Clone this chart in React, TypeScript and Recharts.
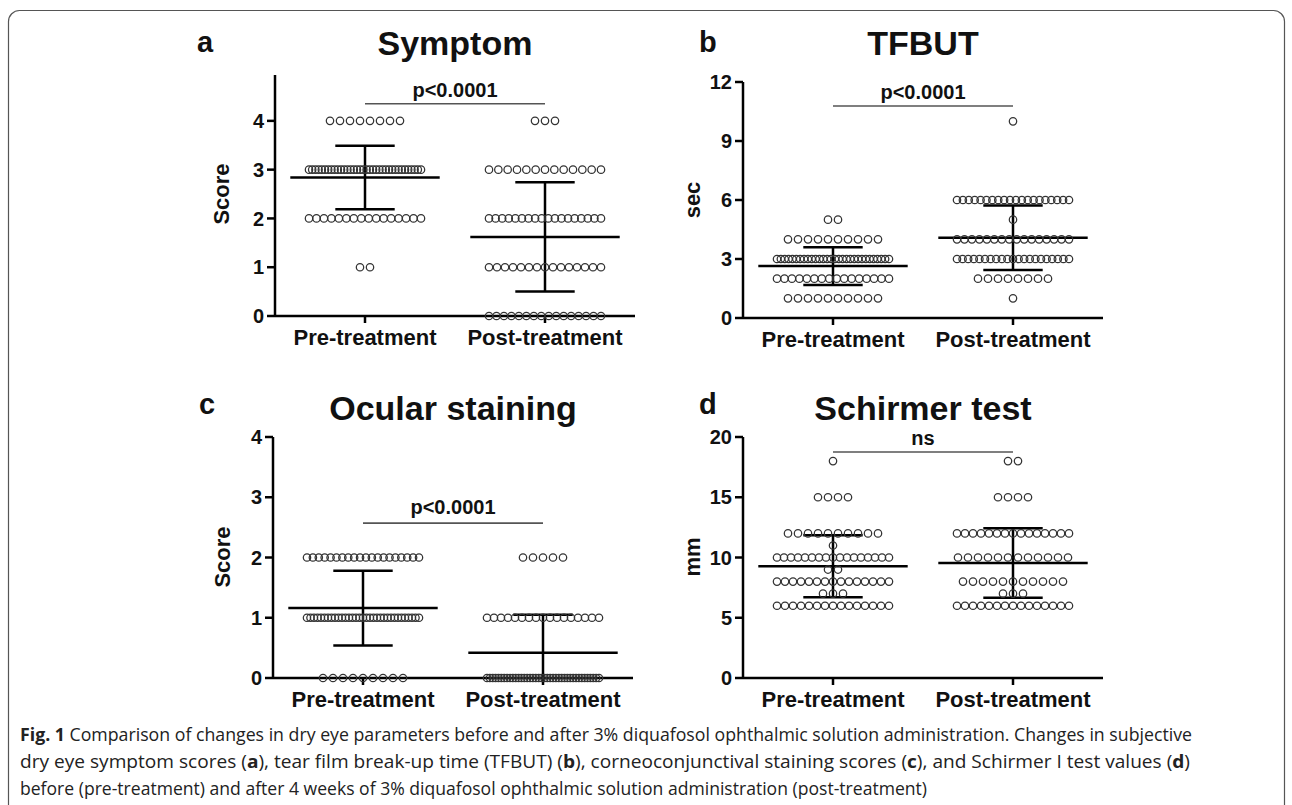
import React from 'react'
import { ScatterChart, Scatter, XAxis, YAxis, ReferenceLine } from 'recharts'

const GROUPS = ['Pre-treatment', 'Post-treatment']

// a: Symptom score (value levels and number of eyes at each level)
const symptomLevels = [4, 3, 2, 1, 0]
const symptomPre = [8, 36, 16, 2, 0]
const symptomPost = [3, 13, 18, 15, 16]
const symptomMean = [2.84, 1.62]
const symptomSd = [0.65, 1.12]
const symptomTicks = [0, 1, 2, 3, 4]

// b: TFBUT (sec)
const tfbutLevels = [10, 6, 5, 4, 3, 2, 1]
const tfbutPre = [0, 0, 2, 10, 30, 16, 10]
const tfbutPost = [1, 20, 1, 16, 21, 8, 1]
const tfbutMean = [2.64, 4.08]
const tfbutSd = [0.96, 1.64]
const tfbutTicks = [0, 3, 6, 9, 12]

// c: Ocular staining score
const stainLevels = [2, 1, 0]
const stainPre = [20, 33, 9]
const stainPost = [5, 17, 40]
const stainMean = [1.16, 0.42]
const stainSd = [0.62, 0.63]
const stainTicks = [0, 1, 2, 3, 4]

// d: Schirmer test (mm)
const schirmerLevels = [18, 15, 12, 11, 10, 9, 8, 7, 6]
const schirmerPre = [1, 4, 10, 1, 17, 2, 15, 3, 15]
const schirmerPost = [2, 4, 15, 0, 12, 0, 11, 3, 15]
const schirmerMean = [9.28, 9.55]
const schirmerSd = [2.57, 2.88]
const schirmerTicks = [0, 5, 10, 15, 20]

const SIG = ['p<0.0001', 'p<0.0001', 'p<0.0001', 'ns']

const FONT = '"Liberation Sans", Arial, sans-serif'
const STEP = 10 / 180 // dot spacing in x units
const MAX_SPAN = 112 / 180 // widest row

// spread the dots of each level in a row around the group position
const makeDots = (levels: number[], counts: number[], gx: number) => {
  const out: { x: number; y: number }[] = []
  levels.forEach((lv, i) => {
    const n = counts[i]
    const gap = n > 1 ? Math.min(STEP, MAX_SPAN / (n - 1)) : 0
    for (let j = 0; j < n; j++) out.push({ x: gx + (j - (n - 1) / 2) * gap, y: lv })
  })
  return out
}

const Dot = (p: any) => <circle cx={p.cx} cy={p.cy} r={3.7} fill='none' stroke='#333' strokeWidth={1.25} />

interface PanelProps {
  levels: number[]
  pre: number[]
  post: number[]
  mean: number[]
  sd: number[]
  ticks: number[]
  yMax: number
  plotLeft: number
  plotTop: number
  plotBottom: number
  sig: string
  sigY: number
  sigOffset: number
}

const DotPanel = ({ levels, pre, post, mean, sd, ticks, yMax, plotLeft, plotTop, plotBottom, sig, sigY, sigOffset }: PanelProps) => {
  const ph = plotBottom - plotTop
  const points = [...makeDots(levels, pre, 1), ...makeDots(levels, post, 2)]
  const axisStyle = { stroke: '#000', strokeWidth: 2.5 }
  return (
    <div style={{ position: 'absolute', left: plotLeft - 140, top: plotTop - 20 }}>
      <ScatterChart width={530} height={ph + 80} margin={{ top: 20, right: 30, bottom: 10, left: 60 }}>
        <XAxis
          type='number'
          dataKey='x'
          domain={[0.5, 2.5]}
          ticks={[1, 2]}
          interval={0}
          tickFormatter={(v) => GROUPS[v - 1]}
          height={50}
          axisLine={axisStyle}
          tickLine={axisStyle}
          tickSize={7}
          tickMargin={6}
          tick={{ fontSize: 22, fontWeight: 700, fill: '#111' }}
        />
        <YAxis
          type='number'
          dataKey='y'
          domain={[0, yMax]}
          ticks={ticks}
          interval={0}
          width={80}
          axisLine={axisStyle}
          tickLine={axisStyle}
          tickSize={8}
          tickMargin={3}
          tick={{ fontSize: 20, fontWeight: 700, fill: '#111' }}
        />
        <Scatter data={points} shape={Dot} isAnimationActive={false} />
        {mean.map((m, i) => {
          const gx = i + 1
          const lo = Math.max(0, m - sd[i])
          const hi = m + sd[i]
          return (
            <React.Fragment key={i}>
              <ReferenceLine segment={[{ x: gx - 0.415, y: m }, { x: gx + 0.415, y: m }]} stroke='#000' strokeWidth={2.5} />
              <ReferenceLine segment={[{ x: gx, y: lo }, { x: gx, y: hi }]} stroke='#000' strokeWidth={2.5} />
              <ReferenceLine segment={[{ x: gx - 0.165, y: hi }, { x: gx + 0.165, y: hi }]} stroke='#000' strokeWidth={2.5} />
              {m - sd[i] > 0 && (
                <ReferenceLine segment={[{ x: gx - 0.165, y: lo }, { x: gx + 0.165, y: lo }]} stroke='#000' strokeWidth={2.5} />
              )}
            </React.Fragment>
          )
        })}
        <ReferenceLine
          segment={[{ x: 1, y: sigY }, { x: 2, y: sigY }]}
          stroke='#555'
          strokeWidth={1.6}
          label={{ value: sig, position: 'top', offset: sigOffset, fontSize: 20, fontWeight: 700, fill: '#111' }}
        />
      </ScatterChart>
    </div>
  )
}

const App = () => {
  return (
    <div style={{ position: 'absolute', left: 0, top: 0, width: 1292, height: 805, background: '#fff', fontFamily: FONT, overflow: 'hidden' }}>
      <svg width={1292} height={805} style={{ position: 'absolute', left: 0, top: 0 }}>
        <rect x={8.5} y={10.5} width={1276} height={840} rx={11} fill='none' stroke='#555' strokeWidth={1.2} />
        <g fontWeight={700} fill='#111'>
          <text x={197} y={52} fontSize={29}>a</text>
          <text x={699} y={52} fontSize={29}>b</text>
          <text x={199} y={414} fontSize={29}>c</text>
          <text x={699} y={414} fontSize={29}>d</text>
          <text x={455} y={55} fontSize={34} textAnchor='middle'>Symptom</text>
          <text x={923} y={55} fontSize={34} textAnchor='middle'>TFBUT</text>
          <text x={453} y={420} fontSize={34} textAnchor='middle'>Ocular staining</text>
          <text x={923} y={420} fontSize={34} textAnchor='middle'>Schirmer test</text>
          <text transform='translate(229,194) rotate(-90)' fontSize={22} textAnchor='middle'>Score</text>
          <text transform='translate(700,200) rotate(-90)' fontSize={22} textAnchor='middle'>sec</text>
          <text transform='translate(230,557) rotate(-90)' fontSize={22} textAnchor='middle'>Score</text>
          <text transform='translate(700,557) rotate(-90)' fontSize={22} textAnchor='middle'>mm</text>
        </g>
        <g fontFamily='"Open Sans", sans-serif' fontSize={18} fill='#222'>
          <text x={20} y={741} textLength={1172} lengthAdjust='spacingAndGlyphs'>
            <tspan fontWeight={700}>Fig. 1</tspan> Comparison of changes in dry eye parameters before and after 3% diquafosol ophthalmic solution administration. Changes in subjective
          </text>
          <text x={20} y={768} textLength={1170} lengthAdjust='spacingAndGlyphs'>
            dry eye symptom scores (<tspan fontWeight={700}>a</tspan>), tear film break-up time (TFBUT) (<tspan fontWeight={700}>b</tspan>), corneoconjunctival staining scores (<tspan fontWeight={700}>c</tspan>), and Schirmer I test values (<tspan fontWeight={700}>d</tspan>)
          </text>
          <text x={20} y={795} textLength={907} lengthAdjust='spacingAndGlyphs'>
            before (pre-treatment) and after 4 weeks of 3% diquafosol ophthalmic solution administration (post-treatment)
          </text>
        </g>
      </svg>

      <DotPanel levels={symptomLevels} pre={symptomPre} post={symptomPost} mean={symptomMean} sd={symptomSd} ticks={symptomTicks}
        yMax={4.94} plotLeft={275} plotTop={75} plotBottom={316} sig={SIG[0]} sigY={4.35} sigOffset={7} />
      <DotPanel levels={tfbutLevels} pre={tfbutPre} post={tfbutPost} mean={tfbutMean} sd={tfbutSd} ticks={tfbutTicks}
        yMax={12} plotLeft={743} plotTop={82} plotBottom={318} sig={SIG[1]} sigY={10.78} sigOffset={7} />
      <DotPanel levels={stainLevels} pre={stainPre} post={stainPost} mean={stainMean} sd={stainSd} ticks={stainTicks}
        yMax={4} plotLeft={273} plotTop={437} plotBottom={678} sig={SIG[2]} sigY={2.57} sigOffset={9} />
      <DotPanel levels={schirmerLevels} pre={schirmerPre} post={schirmerPost} mean={schirmerMean} sd={schirmerSd} ticks={schirmerTicks}
        yMax={20} plotLeft={743} plotTop={437} plotBottom={678} sig={SIG[3]} sigY={18.75} sigOffset={7} />
    </div>
  )
}

export default App
